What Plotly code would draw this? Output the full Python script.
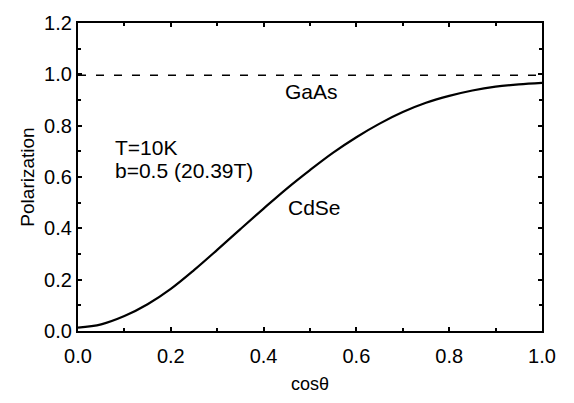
import plotly.graph_objects as go

cos_theta = [0.0, 0.05, 0.1, 0.15, 0.2, 0.25, 0.3, 0.35, 0.4, 0.45, 0.5, 0.55,
             0.6, 0.65, 0.7, 0.75, 0.8, 0.85, 0.9, 0.95, 1.0]
cdse_pol = [0.013, 0.026, 0.058, 0.104, 0.164, 0.237, 0.316, 0.397, 0.477, 0.555,
            0.627, 0.695, 0.755, 0.808, 0.853, 0.889, 0.916, 0.937, 0.952, 0.961, 0.967]
gaas_x = [0.0, 1.0]
gaas_pol = [0.996, 0.996]

x_ticks = [0.0, 0.2, 0.4, 0.6, 0.8, 1.0]
y_ticks = [0.0, 0.2, 0.4, 0.6, 0.8, 1.0, 1.2]

FONT = "Arial, Liberation Sans, Helvetica, sans-serif"

fig = go.Figure()
fig.add_trace(go.Scatter(x=gaas_x, y=gaas_pol, mode="lines", name="GaAs",
                         line=dict(color="black", width=1.5, dash="8px,10px")))
fig.add_trace(go.Scatter(x=cos_theta, y=cdse_pol, mode="lines", name="CdSe",
                         line=dict(color="black", width=2.2, shape="spline")))

axis_common = dict(
    showline=True, linecolor="black", linewidth=2.2, mirror="allticks",
    ticks="inside", ticklen=4, tickwidth=1.8, tickcolor="black",
    showgrid=False, zeroline=False,
    tickfont=dict(family=FONT, size=20, color="black"),
    minor=dict(ticks="inside", ticklen=3, tickwidth=1.8, tickcolor="black", dtick=0.1),
)

fig.update_xaxes(range=[0, 1.0], tickvals=x_ticks, ticktext=[f"{v:.1f}" for v in x_ticks],
                 title=dict(text="cosθ", font=dict(family=FONT, size=18, color="black"), standoff=11),
                 ticklabelstandoff=6, **axis_common)
fig.update_yaxes(range=[0, 1.2], tickvals=y_ticks, ticktext=[f"{v:.1f}" for v in y_ticks],
                 title=dict(text="Polarization", font=dict(family=FONT, size=19, color="black"), standoff=4),
                 ticklabelstandoff=0, **axis_common)

ann_font = dict(family=FONT, size=21, color="black")
for txt, x, y in [("T=10K", 0.075, 0.716), ("b=0.5 (20.39T)", 0.075, 0.625),
                  ("GaAs", 0.442, 0.932), ("CdSe", 0.448, 0.48)]:
    fig.add_annotation(x=x, y=y, text=txt, showarrow=False, xanchor="left", yanchor="middle",
                       font=ann_font, xref="x", yref="y")

fig.update_layout(
    width=574, height=403,
    margin=dict(l=78, r=32, t=14, b=59),
    paper_bgcolor="white", plot_bgcolor="white",
    showlegend=False,
)

fig.write_html("out.html")
